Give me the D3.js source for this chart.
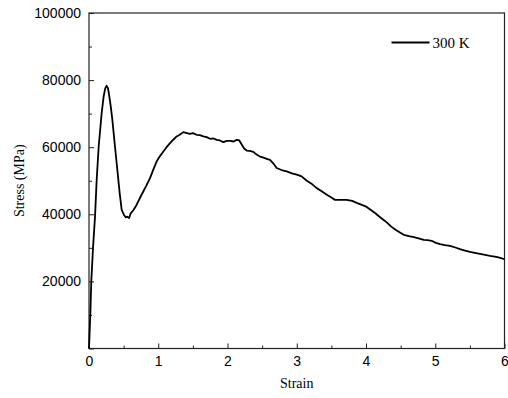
<!DOCTYPE html>
<html>
<head>
<meta charset="utf-8">
<script src="https://cdn.jsdelivr.net/npm/d3@7"></script>
<style>
  body { margin: 0; background: #fff; }
  .tick text { font-family: "Liberation Sans", Arial, sans-serif; font-size: 14px; fill: #000; }
  .axis path, .axis line { stroke: #222; }
  .title { font-family: "Liberation Serif", "Times New Roman", serif; font-size: 14px; fill: #000; }
</style>
</head>
<body>
<div id="chart"></div>
<script>
// strain / stress at 300 K
const strain = [0, 0.019, 0.033, 0.058, 0.087, 0.111, 0.14, 0.183, 0.212, 0.235, 0.255, 0.275, 0.293, 0.315, 0.337, 0.375, 0.409, 0.443, 0.472, 0.505, 0.53, 0.553, 0.58, 0.602, 0.64, 0.674, 0.71, 0.746, 0.784, 0.83, 0.881, 0.93, 0.978, 1.02, 1.074, 1.12, 1.17, 1.22, 1.266, 1.31, 1.362, 1.4, 1.458, 1.5, 1.554, 1.6, 1.651, 1.7, 1.747, 1.8, 1.843, 1.89, 1.94, 1.99, 2.036, 2.09, 2.133, 2.17, 2.205, 2.24, 2.277, 2.32, 2.373, 2.42, 2.469, 2.52, 2.566, 2.614, 2.66, 2.71, 2.78, 2.855, 2.93, 3.0, 3.07, 3.145, 3.22, 3.289, 3.36, 3.434, 3.5, 3.552, 3.64, 3.721, 3.8, 3.865, 3.94, 4.01, 4.07, 4.13, 4.2, 4.25, 4.3, 4.36, 4.426, 4.49, 4.546, 4.62, 4.69, 4.76, 4.835, 4.89, 4.948, 5.01, 5.069, 5.14, 5.213, 5.29, 5.357, 5.43, 5.502, 5.57, 5.646, 5.72, 5.791, 5.88, 5.94, 6.0]
const stress = [0, 10000, 20000, 30000, 39300, 50300, 60200, 70200, 75200, 77600, 78300, 77500, 75200, 72000, 68200, 60200, 53300, 46300, 41300, 39800, 39100, 39300, 38900, 40300, 41200, 42300, 43800, 45300, 46800, 48600, 50800, 53400, 55800, 57200, 58700, 60000, 61200, 62300, 63200, 63700, 64500, 64300, 64000, 64200, 63700, 63600, 63200, 63000, 62500, 62600, 62200, 62000, 61500, 61900, 61900, 61700, 62200, 62000, 60800, 59600, 59000, 58900, 58600, 57800, 57200, 56900, 56500, 56200, 55200, 53800, 53200, 52800, 52200, 51800, 51300, 50000, 49000, 47800, 46900, 45800, 45000, 44300, 44300, 44300, 44000, 43400, 42800, 42200, 41300, 40400, 39200, 38400, 37600, 36400, 35400, 34600, 33900, 33500, 33200, 32800, 32400, 32300, 32100, 31500, 31100, 30800, 30600, 30100, 29600, 29200, 28800, 28500, 28200, 27900, 27600, 27300, 27000, 26600]
const legendLabel = '300 K'
const xTicks = [0, 1, 2, 3, 4, 5, 6]
const yTicks = [0, 20000, 40000, 60000, 80000, 100000]

const margin = {top: 13, right: 3.5, bottom: 49.5, left: 89}
const width = 508 - margin.left - margin.right
const height = 398 - margin.top - margin.bottom

const data = strain.map((s, i) => ({x: s, y: stress[i]}))

const xScale = d3.scaleLinear().domain([0, 6]).range([0, width])
const yScale = d3.scaleLinear().domain([0, 100000]).range([height, 0])

const svg = d3.select('#chart').append('svg')
  .attr('width', 508)
  .attr('height', 398)
const g = svg.append('g')
  .attr('transform', `translate(${margin.left}, ${margin.top})`)

// minor ticks
g.append('g')
  .attr('class', 'axis')
  .attr('transform', `translate(0, ${height})`)
  .call(d3.axisBottom(xScale).tickValues(d3.range(0.5, 6, 1)).tickSize(-3).tickFormat(''))
  .call(s => s.select('.domain').remove())
g.append('g')
  .attr('class', 'axis')
  .call(d3.axisLeft(yScale).tickValues(d3.range(10000, 100000, 20000)).tickSize(-3).tickFormat(''))
  .call(s => s.select('.domain').remove())

// major ticks
g.append('g')
  .attr('class', 'axis')
  .attr('transform', `translate(0, ${height})`)
  .call(d3.axisBottom(xScale).tickValues(xTicks).tickSize(-5).tickPadding(8).tickFormat(d3.format('d')))
  .call(s => s.select('.domain').remove())
g.append('g')
  .attr('class', 'axis')
  .call(d3.axisLeft(yScale).tickValues(yTicks).tickSize(-5).tickPadding(8).tickFormat(d => d === 0 ? '' : d))
  .call(s => s.select('.domain').remove())

// frame
g.append('rect')
  .attr('width', width)
  .attr('height', height)
  .attr('fill', 'none')
  .attr('stroke', '#222')
  .attr('stroke-width', 1.2)

const line = d3.line()
  .x(d => xScale(d.x))
  .y(d => yScale(d.y))

g.append('path')
  .datum(data)
  .attr('fill', 'none')
  .attr('stroke', '#000')
  .attr('stroke-width', 1.8)
  .attr('stroke-linejoin', 'round')
  .attr('d', line)

// legend
const lg = g.append('g').attr('transform', `translate(${391.5 - margin.left}, ${42.5 - margin.top})`)
lg.append('line')
  .attr('x1', 0).attr('x2', 38)
  .attr('stroke', '#000')
  .attr('stroke-width', 1.8)
lg.append('text')
  .attr('class', 'title')
  .attr('x', 41)
  .attr('y', 5)
  .style('font-size', '15px')
  .text(legendLabel)

svg.append('text')
  .attr('class', 'title')
  .attr('x', margin.left + width / 2)
  .attr('y', 388)
  .attr('text-anchor', 'middle')
  .text('Strain')

svg.append('text')
  .attr('class', 'title')
  .attr('transform', `translate(24, ${margin.top + height / 2}) rotate(-90)`)
  .attr('text-anchor', 'middle')
  .text('Stress (MPa)')
</script>
</body>
</html>
